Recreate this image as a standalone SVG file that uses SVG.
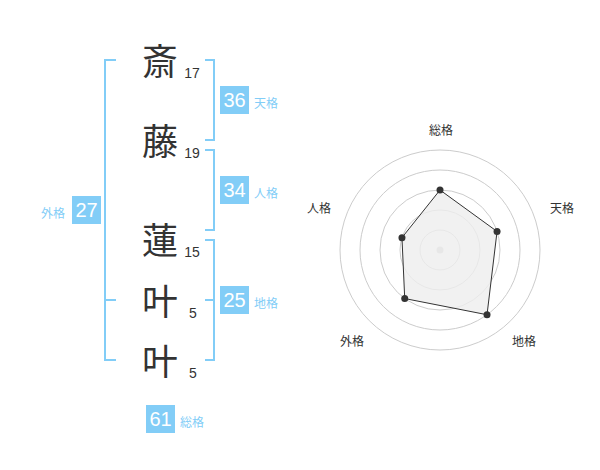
<svg xmlns="http://www.w3.org/2000/svg" width="600" height="470" viewBox="0 0 600 470">
<style>
.ch{font-family:"Noto Sans CJK JP","Noto Sans CJK SC",sans-serif;font-size:36px;fill:#333;text-anchor:middle}
.num{font-family:"Liberation Sans",Arial,sans-serif;font-size:14px;fill:#333;text-anchor:middle}
.br{fill:none;stroke:#82cdf7;stroke-width:2}
.box{fill:#82cdf7}
.bn{font-family:"Liberation Sans",Arial,sans-serif;font-size:20px;fill:#fff;text-anchor:middle}
.lb{font-family:"Noto Sans CJK JP","Noto Sans CJK SC",sans-serif;font-size:12px;fill:#82cdf7}
.ring{fill:none;stroke:#ccc;stroke-width:1}
.rl{font-family:"Noto Sans CJK JP","Noto Sans CJK SC",sans-serif;font-size:12px;fill:#333;text-anchor:middle}
.dot{fill:#333}
</style>
<rect width="600" height="470" fill="#fff"/>
<g id="connectors">
<path class="br" d="M205,60 H214 V140 H205"/>
<path class="br" d="M205,150 H214 V230 H205"/>
<path class="br" d="M205,240 H214 V360 H205 M205,300 H214"/>
<path class="br" d="M116,60 H105 V360 H116 M105,300 H116"/>
</g>
<g id="char1"><text class="ch" x="160" y="75">斎</text><text class="num" x="192" y="78">17</text></g>
<g id="char2"><text class="ch" x="160" y="155">藤</text><text class="num" x="192" y="158">19</text></g>
<g id="char3"><text class="ch" x="160" y="254">蓮</text><text class="num" x="192" y="257">15</text></g>
<g id="char4"><text class="ch" x="160" y="315">叶</text><text class="num" x="193" y="318">5</text></g>
<g id="char5"><text class="ch" x="160" y="375">叶</text><text class="num" x="193" y="378">5</text></g>
<g id="tenkaku"><rect class="box" x="220" y="86" width="29" height="28"/><text class="bn" x="234.5" y="107">36</text><text class="lb" x="254" y="108">天格</text></g>
<g id="jinkaku"><rect class="box" x="220" y="176" width="29" height="28"/><text class="bn" x="234.5" y="197">34</text><text class="lb" x="254" y="198">人格</text></g>
<g id="chikaku"><rect class="box" x="220" y="286" width="29" height="28"/><text class="bn" x="234.5" y="307">25</text><text class="lb" x="254" y="308">地格</text></g>
<g id="gaikaku"><rect class="box" x="72" y="196" width="29" height="28"/><text class="bn" x="86.5" y="217">27</text><text class="lb" x="41" y="218">外格</text></g>
<g id="soukaku"><rect class="box" x="146" y="405" width="29" height="28"/><text class="bn" x="160.5" y="426">61</text><text class="lb" x="180" y="427">総格</text></g>
<g id="radar">
<circle class="ring" cx="440" cy="250" r="20"/>
<circle class="ring" cx="440" cy="250" r="40"/>
<circle class="ring" cx="440" cy="250" r="60"/>
<circle class="ring" cx="440" cy="250" r="80"/>
<circle class="ring" cx="440" cy="250" r="100"/>
<circle cx="440" cy="250" r="3.5" fill="#ccc"/>
<polygon points="440,190 497.06,231.46 487.02,314.72 404.73,298.54 401.96,237.64" fill="#eee" fill-opacity="0.8" stroke="#333" stroke-width="1"/>
<circle class="dot" cx="440" cy="190" r="3.5"/>
<circle class="dot" cx="497.06" cy="231.46" r="3.5"/>
<circle class="dot" cx="487.02" cy="314.72" r="3.5"/>
<circle class="dot" cx="404.73" cy="298.54" r="3.5"/>
<circle class="dot" cx="401.96" cy="237.64" r="3.5"/>
<text class="rl" x="441" y="135">総格</text>
<text class="rl" x="562" y="213">天格</text>
<text class="rl" x="524" y="346">地格</text>
<text class="rl" x="352" y="346">外格</text>
<text class="rl" x="319" y="213">人格</text>
</g>
</svg>
